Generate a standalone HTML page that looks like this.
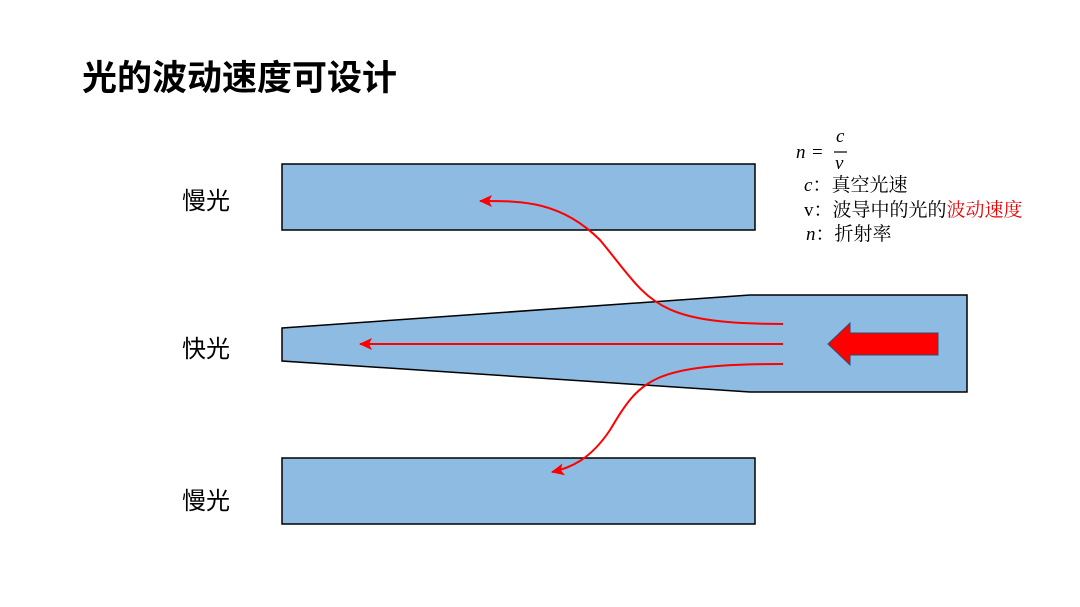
<!DOCTYPE html>
<html><head><meta charset="utf-8"><style>
body{margin:0;width:1080px;height:607px;background:#fff;overflow:hidden;position:relative;font-family:"Liberation Sans","Noto Sans CJK SC",sans-serif}
.t{position:absolute;white-space:nowrap}
</style></head><body>
<div class="t" style="left:82px;top:50px;font-size:35px;font-weight:bold;color:#000">光的波动速度可设计</div>
<div class="t" style="left:182px;top:181px;font-size:24px">慢光</div>
<div class="t" style="left:182px;top:329px;font-size:24px">快光</div>
<div class="t" style="left:182px;top:481px;font-size:24px">慢光</div>
<svg width="1080" height="607" style="position:absolute;left:0;top:0">
<defs>
<marker id="b" markerWidth="14" markerHeight="12" refX="12" refY="6" orient="auto" markerUnits="userSpaceOnUse"><path d="M0,0 L13,6 L0,12 L3,6z" fill="#f00"/></marker></defs>
<rect x="282" y="164" width="473" height="66" fill="#8dbbe2" stroke="#000" stroke-width="1.5"/>
<rect x="282" y="458" width="473" height="66" fill="#8dbbe2" stroke="#000" stroke-width="1.5"/>
<path d="M282,328 L750,295 L967,295 L967,392 L750,392 L282,361Z" fill="#8dbbe2" stroke="#000" stroke-width="1.5"/>
<path d="M938,333 L850,333 L850,323 L828,344 L850,365 L850,355 L938,355Z" fill="#f00" stroke="#2f4f6f" stroke-width="1"/>
<path d="M783,324 C650,324 650,300 600,240 C560,200 520,201 480,201" fill="none" stroke="#f00" stroke-width="2" marker-end="url(#b)"/>
<path d="M783,344 L360,344" fill="none" stroke="#f00" stroke-width="2" marker-end="url(#b)"/>
<path d="M783,364 C650,364 640,380 610,430 C590,460 570,468 552,472" fill="none" stroke="#f00" stroke-width="2" marker-end="url(#b)"/>
<g font-family="Liberation Serif,serif" font-style="italic" font-size="19">
<text x="796" y="158">n</text><text x="812" y="158" font-style="normal">=</text>
<text x="836" y="142">c</text><line x1="834" y1="152" x2="847" y2="152" stroke="#000" stroke-width="1.2"/><text x="835" y="169">v</text>
</g>
<g font-family="Liberation Serif,'Noto Serif CJK SC',serif" font-size="19">
<text x="804" y="191"><tspan font-style="italic">c</tspan>：真空光速</text>
<text x="804" y="216">v：波导中的光的<tspan fill="#e00">波动速度</tspan></text>
<text x="806" y="240"><tspan font-style="italic">n</tspan>：折射率</text>
</g>
</svg>
</body></html>
